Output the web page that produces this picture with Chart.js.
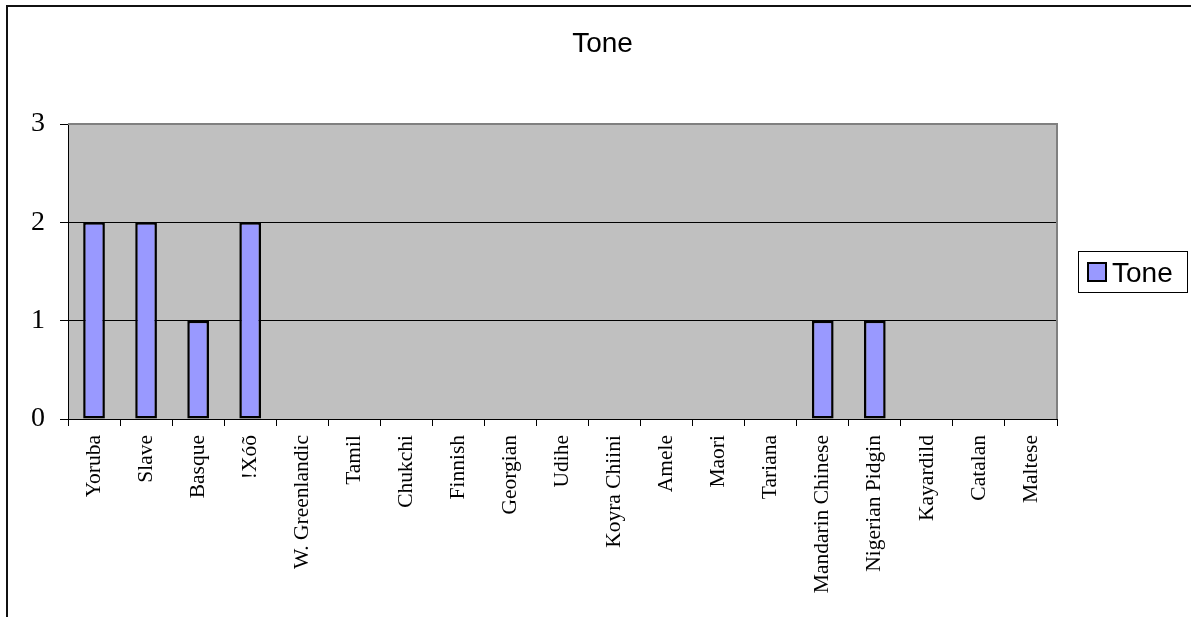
<!DOCTYPE html>
<html>
<head>
<meta charset="utf-8">
<title>Tone</title>
<script src="https://cdn.jsdelivr.net/npm/chart.js@4/dist/chart.umd.min.js"></script>
<style>
  html, body { margin: 0; padding: 0; background: #ffffff; }
  #wrap { width: 1191px; height: 617px; }
</style>
</head>
<body>
<div id="wrap"><canvas id="chart" width="1191" height="617"></canvas></div>
<script>
// Languages on the category axis
const languages = [
  'Yoruba', 'Slave', 'Basque', '!Xóõ', 'W. Greenlandic', 'Tamil', 'Chukchi',
  'Finnish', 'Georgian', 'Udihe', 'Koyra Chiini', 'Amele', 'Maori', 'Tariana',
  'Mandarin Chinese', 'Nigerian Pidgin', 'Kayardild', 'Catalan', 'Maltese'
];
// Tone value per language
const toneValues = [2, 2, 1, 2, 0, 0, 0, 0, 0, 0, 0, 0, 0, 0, 1, 1, 0, 0, 0];
const seriesName = 'Tone';
const chartTitle = 'Tone';
const yTicks = [0, 1, 2, 3];

const SANS = '"Liberation Sans", Arial, sans-serif';
const SERIF = '"Liberation Serif", "Times New Roman", serif';

// Frame, plot background, plot border, title and boxed legend
const decor = {
  id: 'decor',
  beforeDraw(chart) {
    const { ctx, chartArea: a } = chart;
    ctx.save();
    ctx.fillStyle = '#ffffff';
    ctx.fillRect(0, 0, chart.width, chart.height);
    // outer frame (left and top edges visible)
    ctx.strokeStyle = '#111111';
    ctx.lineWidth = 2;
    ctx.beginPath();
    ctx.moveTo(7, chart.height);
    ctx.lineTo(7, 6);
    ctx.lineTo(chart.width, 6);
    ctx.stroke();
    // plot background
    ctx.fillStyle = '#c0c0c0';
    ctx.fillRect(a.left, a.top, a.right - a.left, a.bottom - a.top);
    ctx.restore();
  },
  beforeDatasetsDraw(chart) {
    const { ctx, chartArea: a } = chart;
    ctx.save();
    ctx.strokeStyle = '#808080';
    ctx.lineWidth = 2;
    ctx.beginPath();
    ctx.moveTo(a.left, a.top);
    ctx.lineTo(a.right, a.top);
    ctx.lineTo(a.right, a.bottom);
    ctx.stroke();
    ctx.restore();
  },
  afterDraw(chart) {
    const { ctx, chartArea: a } = chart;
    const ds = chart.data.datasets[0];
    ctx.save();
    // title, centred on the frame
    ctx.fillStyle = '#000';
    ctx.font = '28px ' + SANS;
    ctx.textAlign = 'center';
    ctx.textBaseline = 'alphabetic';
    ctx.fillText(chartTitle, (7 + chart.width + 7) / 2, 52);

    // legend box
    const boxW = 109, boxH = 41;
    const bx = a.right + 21;
    const by = Math.round((a.top + a.bottom) / 2 - boxH / 2);
    ctx.fillStyle = '#ffffff';
    ctx.fillRect(bx, by, boxW, boxH);
    ctx.strokeStyle = '#000';
    ctx.lineWidth = 1;
    ctx.strokeRect(bx + 0.5, by + 0.5, boxW, boxH);
    // swatch
    const sx = bx + 10, sy = by + 12, ss = 18;
    ctx.fillStyle = ds.backgroundColor;
    ctx.fillRect(sx, sy, ss, ss);
    ctx.strokeStyle = ds.borderColor;
    ctx.lineWidth = 2;
    ctx.strokeRect(sx, sy, ss, ss);
    // label
    ctx.fillStyle = '#000';
    ctx.font = '28px ' + SANS;
    ctx.textAlign = 'left';
    ctx.fillText(ds.label, sx + ss + 6, sy + ss + 1);
    ctx.restore();
  }
};

new Chart(document.getElementById('chart'), {
  type: 'bar',
  data: {
    labels: languages,
    datasets: [{
      label: seriesName,
      data: toneValues,
      backgroundColor: '#9999ff',
      borderColor: '#000000',
      borderWidth: 2.5,
      borderSkipped: false,
      categoryPercentage: 1.0,
      barPercentage: 0.417
    }]
  },
  options: {
    responsive: false,
    animation: false,
    events: [],
    layout: { padding: { left: 0, top: 124, right: 134, bottom: 0 } },
    plugins: {
      legend: { display: false },
      title: { display: false },
      tooltip: { enabled: false }
    },
    scales: {
      x: {
        offset: true,
        grid: {
          offset: true,
          drawOnChartArea: false,
          drawTicks: true,
          tickLength: 7,
          tickColor: '#000000',
          tickWidth: 1
        },
        border: { display: true, color: '#000000', width: 1 },
        ticks: {
          autoSkip: false,
          minRotation: 90,
          maxRotation: 90,
          padding: 9,
          color: '#000000',
          font: { family: SERIF, size: 21.5 }
        },
        afterFit(scale) { scale.height = 198; }
      },
      y: {
        min: yTicks[0],
        max: yTicks[yTicks.length - 1],
        afterBuildTicks(scale) { scale.ticks = yTicks.map(v => ({ value: v })); },
        grid: {
          color: ctx => (ctx.tick && (ctx.tick.value === 1 || ctx.tick.value === 2)) ? '#000000' : 'rgba(0,0,0,0)',
          lineWidth: 1,
          drawTicks: true,
          tickLength: 8,
          tickColor: '#000000'
        },
        border: { display: true, color: '#000000', width: 1 },
        ticks: {
          padding: 15,
          color: '#000000',
          font: { family: SERIF, size: 28 }
        },
        afterFit(scale) { scale.width = 68; }
      }
    }
  },
  plugins: [decor]
});
</script>
</body>
</html>
